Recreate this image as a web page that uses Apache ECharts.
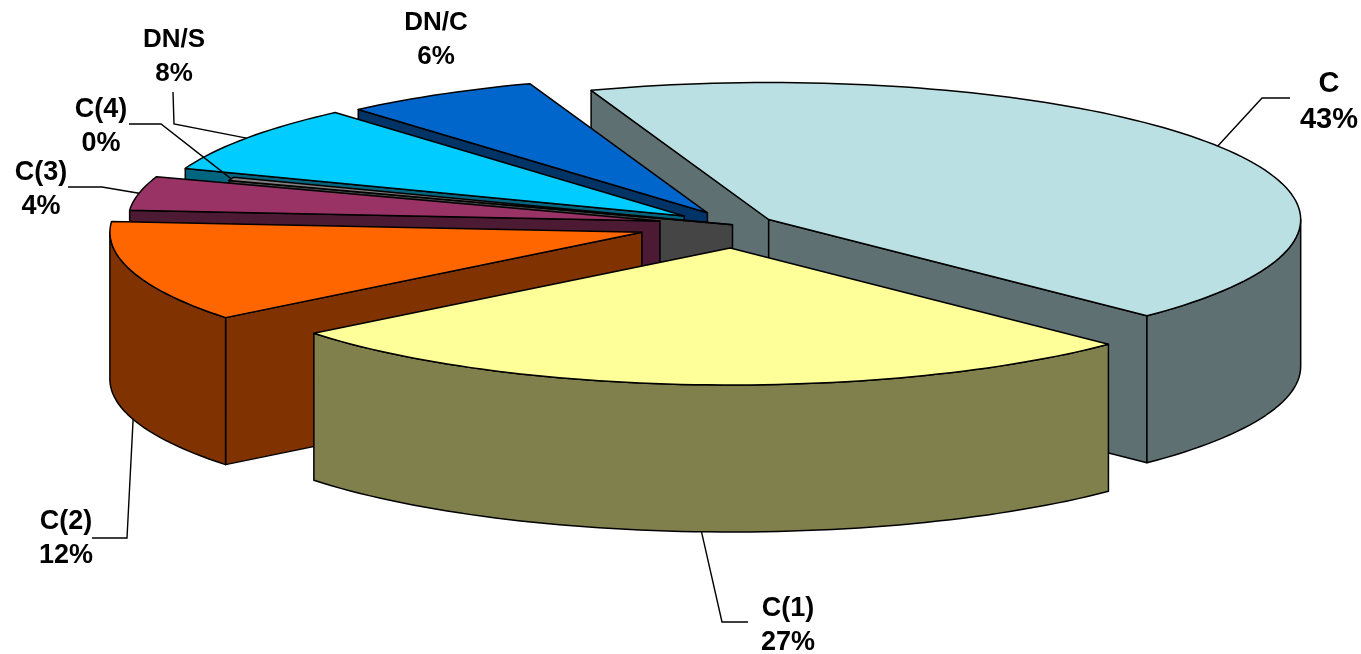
<!DOCTYPE html>
<html>
<head>
<meta charset="utf-8">
<title>Composition by class</title>
<script src="https://cdn.jsdelivr.net/npm/echarts@6/dist/echarts.min.js"></script>
<style>
  html, body { margin: 0; padding: 0; background: #fff; }
  #chart { width: 1361px; height: 654px; }
</style>
</head>
<body>
<div id="chart"></div>
<script>
// Slice values, clockwise from the first slice
const categories = ['C', 'C(1)', 'C(2)', 'C(3)', 'C(4)', 'DN/S', 'DN/C'];
const shares = [43, 27, 12, 4, 0.4, 8, 6];

// How far each slice is pulled out, as a fraction of the radius
const explosion = [0.075, 0.168, 0.183, 0.144, 0.005, 0.116, 0.103];

// Top-face and wall colours per slice
const topColors = ['#BBE0E3', '#FFFF99', '#FF6600', '#993366', '#808080', '#00CCFF', '#0066CC'];
const wallColors = ['#5E7072', '#80804D', '#803300', '#4D1A33', '#454545', '#006680', '#003366'];

// Back-to-front paint order (indices into categories)
const paintOrder = [0, 6, 5, 4, 3, 2, 1];

// Label centres and leader-line bends, in page pixels
const labelCenters = [[1329, 102], [788, 626], [66, 539], [41, 190], [101, 127], [174, 57], [436, 40]];
const labelSizes = [29, 27, 27, 27, 27, 26, 26];
const labelLineHeights = [36, 34, 34, 34, 34, 34, 34];
const leaderBends = [
  [[1262, 98], [1290, 98]],
  [[722, 622], [748, 622]],
  [[127, 538], [92, 538]],
  [[102, 187], [68, 187]],
  [[161, 124], [129, 124]],
  [[174, 124], [173, 92]],
  null
];

const START_ANGLE = -19.5;   // degrees clockwise from 12 o'clock
const DEPTH = 1.073;         // extrusion height, in y-axis units
const FONT_FAMILY = '"Liberation Sans", Arial, sans-serif';

const total = shares.reduce((sum, v) => sum + v, 0);
const rad = (d) => d * Math.PI / 180;

// Start and end angles for every slice
const spans = [];
shares.reduce((angle, v) => {
  const end = angle + v / total * 360;
  spans.push([angle, end]);
  return end;
}, START_ANGLE);

function arcPoints(from, to, ox, oy, dy) {
  const steps = Math.max(2, Math.ceil(Math.abs(to - from) / 1.5));
  const pts = [];
  for (let i = 0; i <= steps; i++) {
    const t = rad(from + (to - from) * i / steps);
    pts.push([ox + Math.sin(t), oy - Math.cos(t) + dy]);
  }
  return pts;
}

// The part of an arc that faces the viewer lies between 90 and 270 degrees
function frontRange(start, end) {
  const from = Math.max(start, 90);
  const to = Math.min(end, 270);
  return from < to ? [from, to] : null;
}

function renderSlice(params, api) {
  const idx = api.value(1);
  const [start, end] = spans[idx];
  const mid = rad((start + end) / 2);
  const e = api.value(2);
  const ox = Math.sin(mid) * e;
  const oy = -Math.cos(mid) * e;
  const px = (p) => api.coord(p);
  const line = { stroke: '#000', lineWidth: 1.5, lineJoin: 'round' };
  const poly = (pts, fill, z2) => ({
    type: 'polygon', z2: z2,
    shape: { points: pts.map(px) },
    style: Object.assign({ fill: fill }, line)
  });

  const rim = arcPoints(start, end, ox, oy, 0);
  const first = rim[0];
  const last = rim[rim.length - 1];
  const base = params.dataIndex * 10;
  const children = [];

  // Only the cut faces turned towards the viewer are drawn
  if (Math.sin(rad(start)) < 0) {
    children.push(poly([[ox, oy], first, [first[0], first[1] + DEPTH], [ox, oy + DEPTH]], wallColors[idx], base));
  }
  if (Math.sin(rad(end)) > 0) {
    children.push(poly([[ox, oy], last, [last[0], last[1] + DEPTH], [ox, oy + DEPTH]], wallColors[idx], base + 1));
  }
  const front = frontRange(start, end);
  if (front) {
    const upper = arcPoints(front[0], front[1], ox, oy, 0);
    const lower = arcPoints(front[0], front[1], ox, oy, DEPTH).reverse();
    children.push(poly(upper.concat(lower), wallColors[idx], base + 2));
  }
  children.push(poly([[ox, oy]].concat(rim), topColors[idx], base + 3));

  // Leader line from the outer edge at the slice's mid angle, then its label
  const bends = leaderBends[idx];
  if (bends) {
    const midDeg = (start + end) / 2;
    const onFront = midDeg > 90 && midDeg < 270;
    const anchor = px([ox + Math.sin(mid), oy - Math.cos(mid) + (onFront ? DEPTH : 0)]);
    children.push({
      type: 'polyline', z2: 500,
      shape: { points: [anchor].concat(bends) },
      style: { stroke: '#000', lineWidth: 1.4, fill: null }
    });
  }
  const pct = Math.round(api.value(0) / total * 100);
  children.push({
    type: 'text', z2: 600,
    style: {
      x: labelCenters[idx][0],
      y: labelCenters[idx][1],
      text: categories[idx] + '\n' + pct + '%',
      fill: '#000',
      align: 'center',
      verticalAlign: 'middle',
      lineHeight: labelLineHeights[idx],
      font: 'bold ' + labelSizes[idx] + 'px ' + FONT_FAMILY
    }
  });
  return { type: 'group', children: children };
}

const chart = echarts.init(document.getElementById('chart'), null, { renderer: 'canvas' });
chart.setOption({
  animation: false,
  backgroundColor: '#fff',
  tooltip: { show: false },
  // Unit-circle axes: x spans the pie's width and y its foreshortened height
  grid: { left: 203, top: 88, width: 1064, height: 274 },
  xAxis: { type: 'value', min: -1, max: 1, show: false },
  yAxis: { type: 'value', min: -1, max: 1, inverse: true, show: false },
  series: [{
    type: 'custom',
    coordinateSystem: 'cartesian2d',
    clip: false,
    silent: true,
    renderItem: renderSlice,
    data: paintOrder.map((i) => ({ name: categories[i], value: [shares[i], i, explosion[i]] }))
  }]
});
</script>
</body>
</html>
